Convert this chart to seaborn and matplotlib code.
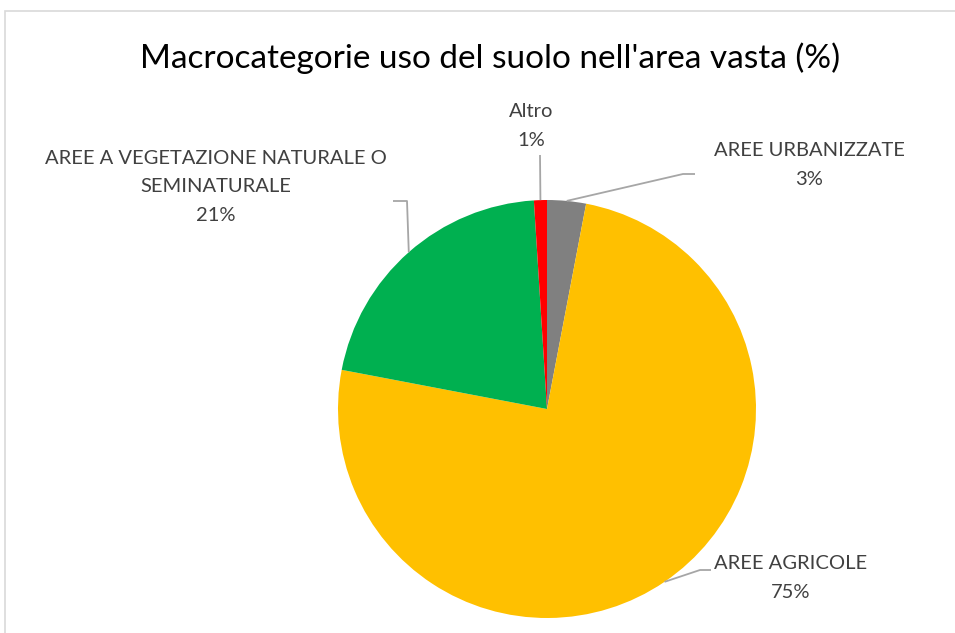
import numpy as np
import matplotlib
matplotlib.use("Agg")
import matplotlib.pyplot as plt
import seaborn as sns
from matplotlib.patches import Rectangle

# dati
categorie = ["AREE URBANIZZATE", "AREE AGRICOLE",
             "AREE A VEGETAZIONE NATURALE O\nSEMINATURALE", "Altro"]
percentuali = [3, 75, 21, 1]
colori = ["#808080", "#FFC000", "#00B050", "#FF0000"]
titolo = "Macrocategorie uso del suolo nell'area vasta (%)"

sns.set_style("white")
plt.rcParams['font.family'] = ['Lato', 'DejaVu Sans']

W, H = 955, 633
fig = plt.figure(figsize=(W / 100, H / 100), dpi=100)
ax = fig.add_axes([0, 0, 1, 1])

# cornice del grafico
ax.add_patch(Rectangle((5, -10), W, H - 11 + 10, fill=False, edgecolor='#D9D9D9', linewidth=1.2))

cx, cy, r = 547, H - 409, 209
wedges, _ = ax.pie(percentuali, colors=colori, startangle=90, counterclock=False,
                   center=(cx, cy), radius=r, frame=True,
                   wedgeprops=dict(linewidth=0))
ax.set_xlim(0, W)
ax.set_ylim(0, H)
ax.set_aspect('equal')
ax.axis('off')

# etichette (posizione in pixel, gomito della linea guida)
pos_etichette = [(809, 165), (791, 578), (216, 187), (531, 126)]
gomiti = [[(683, 174), (695, 174)], [(700, 570), (711, 570)],
          [(407, 201), (393, 201)], [(540, 155)]]

for w, nome, p, pos, gom in zip(wedges, categorie, percentuali, pos_etichette, gomiti):
    ang = np.deg2rad((w.theta1 + w.theta2) / 2)
    x0, y0 = cx + r * np.cos(ang), cy + r * np.sin(ang)
    xs = [x0] + [g[0] for g in gom]
    ys = [y0] + [H - g[1] for g in gom]
    ax.plot(xs, ys, color='#A6A6A6', linewidth=1.3, solid_capstyle='butt')
    ax.text(pos[0], H - pos[1], f"{nome}\n{p}%", ha='center', va='center',
            fontsize=14.5, color='#404040', linespacing=1.85)

ax.text(490, H - 58, titolo, ha='center', va='center', fontsize=24, color='black')

fig.savefig("out.png", dpi=100)
